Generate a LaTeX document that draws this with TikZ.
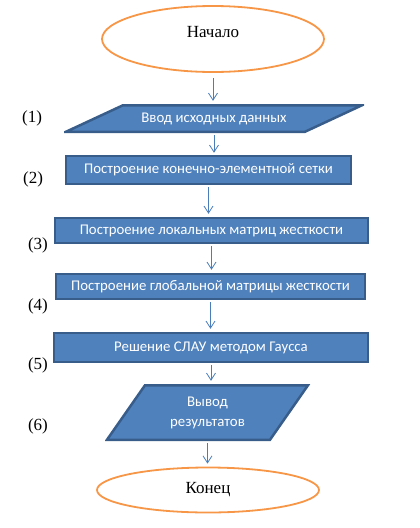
\documentclass[tikz,border=0pt]{standalone}
\usepackage{fontspec}
\setmainfont{Liberation Serif}
\newfontfamily\boxfont{Carlito}
\usetikzlibrary{arrows.meta,shapes.geometric}
\definecolor{flowblue}{RGB}{79,129,189}
\definecolor{flowedge}{RGB}{56,93,138}
\definecolor{flowline}{RGB}{74,126,187}
\definecolor{floworange}{RGB}{247,150,70}

\begin{document}
\begin{tikzpicture}[x=1pt, y=-1pt,
      term/.style={ellipse, draw=floworange, line width=1.8pt, inner sep=0pt, font=\fontsize{17}{20}\selectfont},
      proc/.style={rectangle, draw=flowedge, fill=flowblue, line width=2.5pt, inner sep=0pt, text=white, font=\boxfont\fontsize{14.8}{17}\selectfont},
      io/.style={rectangle, inner sep=0pt, text=white, align=center, font=\boxfont\fontsize{14.8}{20}\selectfont,
        path picture={\draw[draw=flowedge, fill=flowblue, line width=2.5pt]
          ([xshift=#1pt, yshift=-1.25pt]path picture bounding box.north west) -- ([xshift=-2pt, yshift=-1.25pt]path picture bounding box.north east)
          -- ([xshift=-#1pt, yshift=1.25pt]path picture bounding box.south east) -- ([xshift=2pt, yshift=1.25pt]path picture bounding box.south west) -- cycle;}},
      num/.style={font=\fontsize{17}{20}\selectfont},
      arr/.style={-{Straight Barb[length=7pt,width=9pt]}, color=flowline, line width=0.8pt, shorten <=2pt, shorten >=3pt}
    ]
      \useasboundingbox (0,0) rectangle (420,528);

      % Start & End
      \node[term, minimum width=222, minimum height=66, text depth=14pt] (start) at (213,39) {Начало};
      \node[term, minimum width=222, minimum height=45] (stop) at (208,490) {Конец};

      % Steps
      \node[io=59, minimum width=300, minimum height=29] (input) at (214,118.5) {Ввод исходных данных};
      \node[proc, minimum width=285, minimum height=28] (mesh) at (208.5,170) {Построение конечно-элементной сетки};
      \node[proc, minimum width=313, minimum height=25] (local) at (211.5,230.5) {Построение локальных матриц жесткости};
      \node[proc, minimum width=309, minimum height=25] (global) at (210.5,286.5) {Построение глобальной матрицы жесткости};
      \node[proc, minimum width=314, minimum height=29] (solve) at (211,347.5) {Решение СЛАУ методом Гаусса};
      \node[io=40, minimum width=205, minimum height=57] (output) at (207.5,412.5) {Вывод\\результатов};

      % Step numbers
      \node[num] (n1) at (32,118) {(1)};
      \node[num] (n2) at (33,179) {(2)};
      \node[num] (n3) at (38,245) {(3)};
      \node[num] (n4) at (38,306) {(4)};
      \node[num] (n5) at (38,365) {(5)};
      \node[num] (n6) at (38,426) {(6)};

      % Flow
      \draw[arr, shorten <=5pt] (start) -- (start |- input.north);
      \draw[arr, shorten >=2pt] (input) -- (input |- mesh.north);
      \draw[arr] (mesh) -- (mesh |- local.north);
      \draw[arr] (local) -- (local |- global.north);
      \draw[arr] (global) -- (global |- solve.north);
      \draw[arr] (solve) -- (solve |- output.north);
      \draw[arr] (output) -- (output |- stop.north);
    \end{tikzpicture}
\end{document}
